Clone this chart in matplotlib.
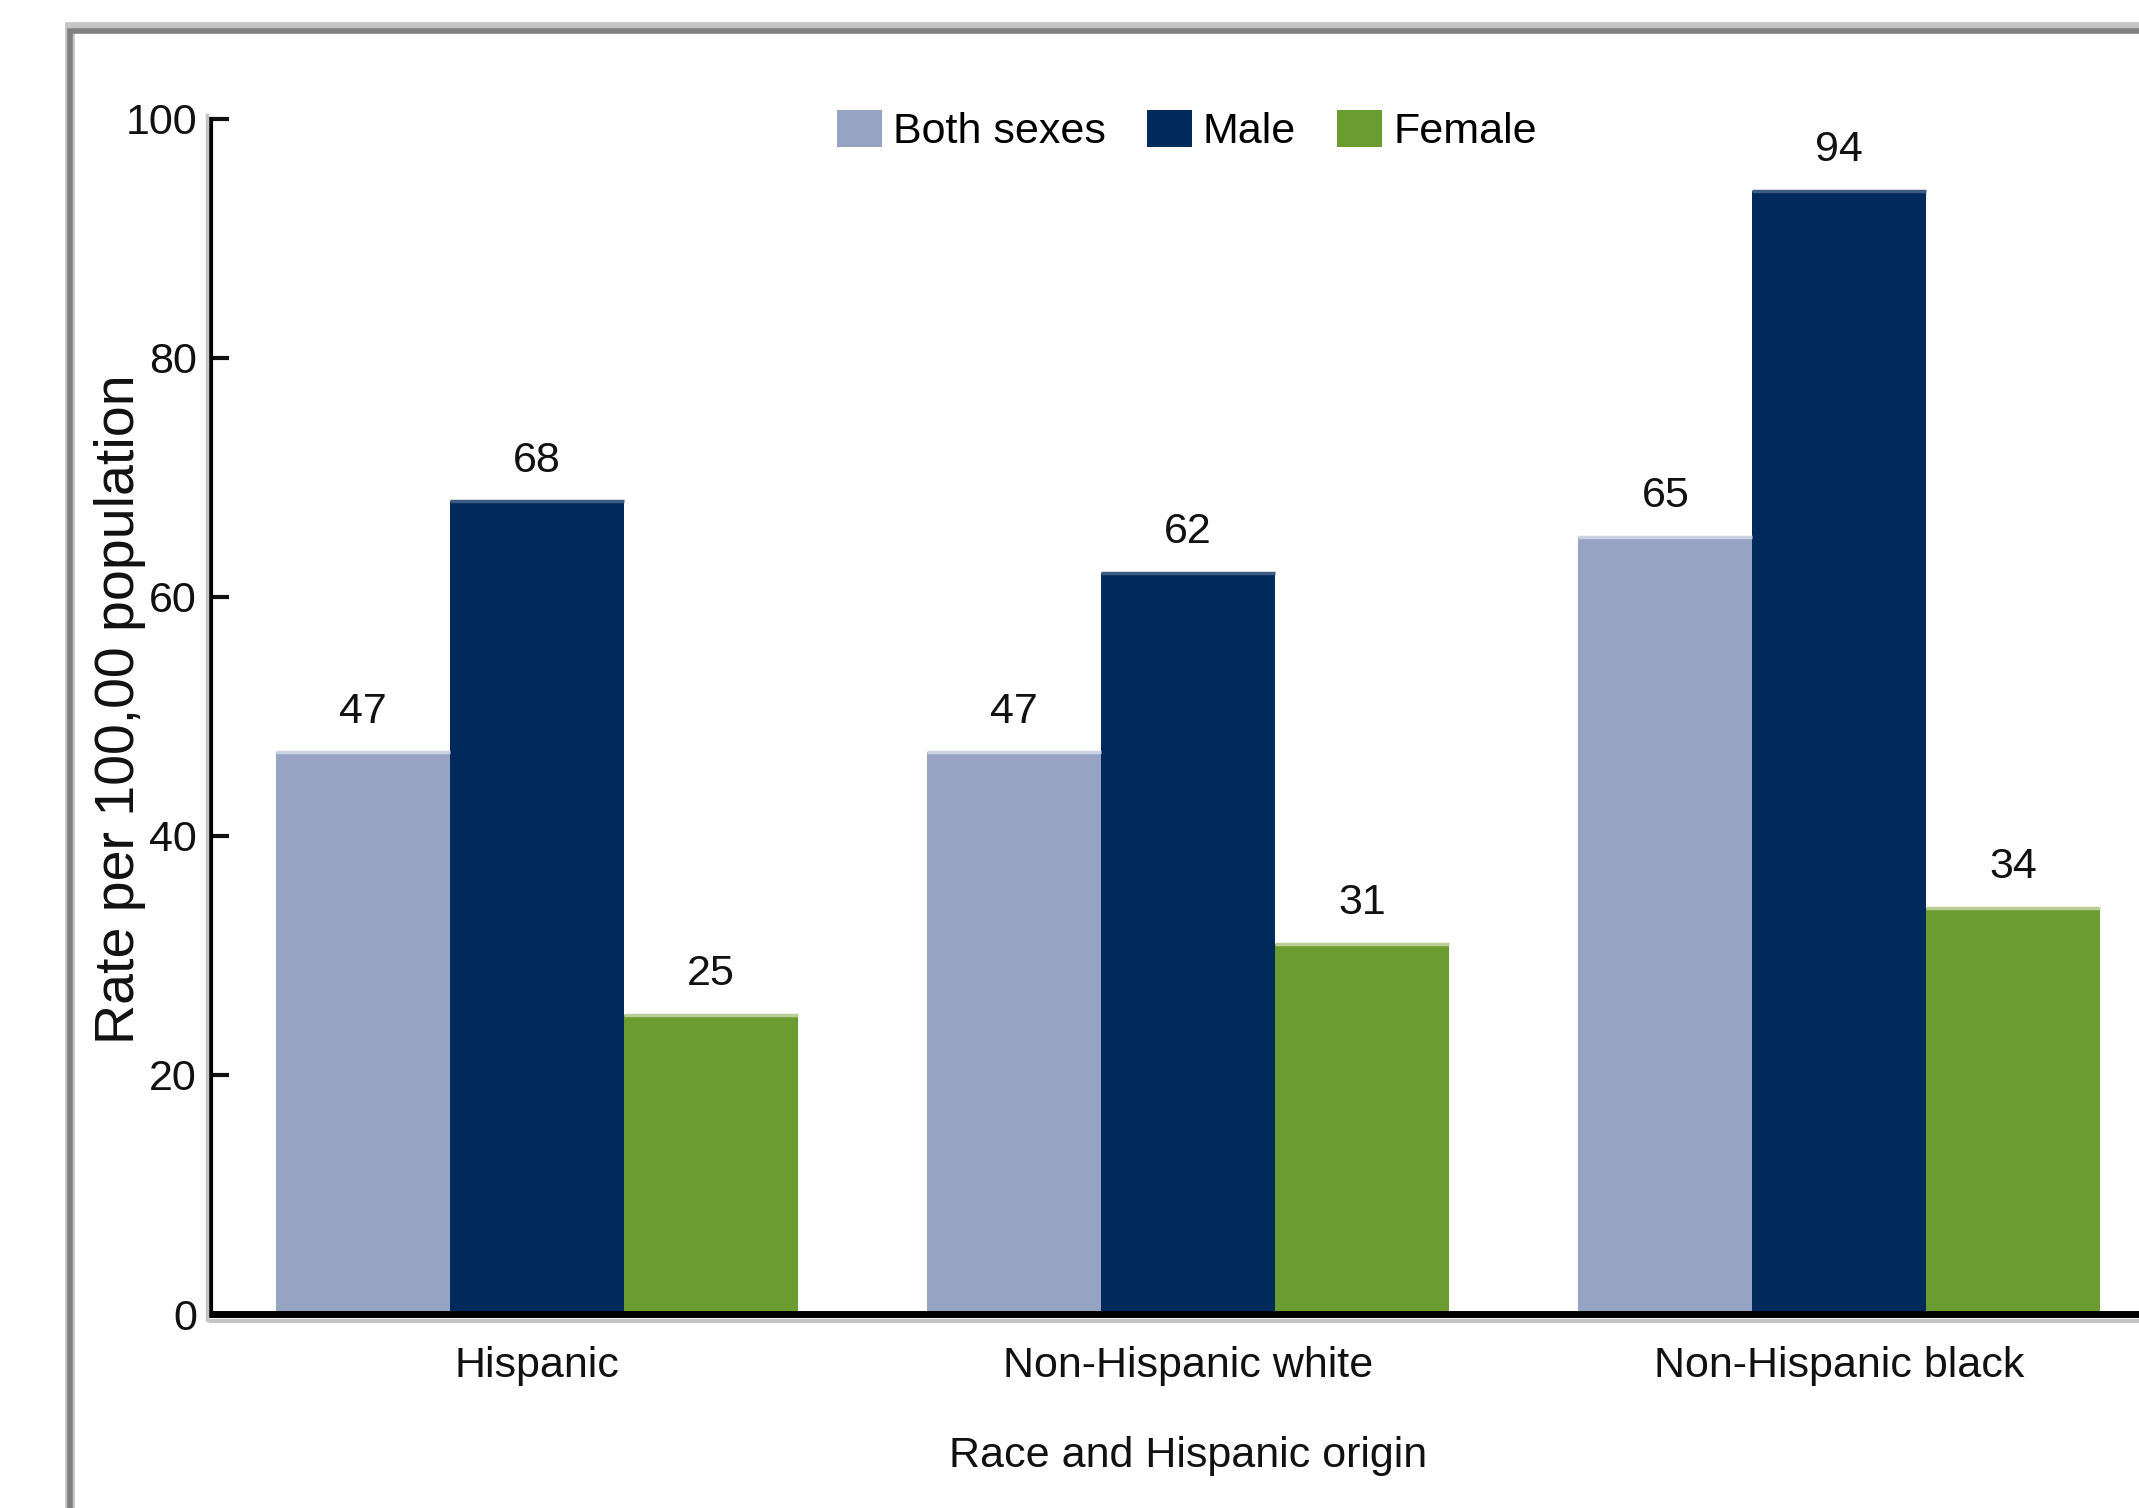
import matplotlib
matplotlib.use("Agg")
import matplotlib.pyplot as plt
import numpy as np
from matplotlib.patches import Rectangle
from matplotlib.lines import Line2D

# Data
groups = ["Hispanic", "Non-Hispanic white", "Non-Hispanic black"]
series_names = ["Both sexes", "Male", "Female"]
both_sexes = [47, 47, 65]
male = [68, 62, 94]
female = [25, 31, 34]
y_ticks = [0, 20, 40, 60, 80, 100]

colors = ["#96A3C2", "#002A5C", "#6A9C30"]
top_colors = ["#CBD2E3", "#3E5C82", "#B8CF98"]

plt.rcParams["font.family"] = ["Liberation Sans", "DejaVu Sans"]
TXT = "#111111"
FS = 31

W, H = 2139, 1508
fig = plt.figure(figsize=(W / 100, H / 100), dpi=100)

# Outer frame (extends past the right and bottom edges)
fig.add_artist(Rectangle((70 / W, -0.2), 1.2, 1 - 27 / H + 0.2,
                         transform=fig.transFigure, fill=False,
                         edgecolor="#C4C4C4", linewidth=7, zorder=0))
fig.add_artist(Rectangle((70 / W, -0.2), 1.2, 1 - 31 / H + 0.2,
                         transform=fig.transFigure, fill=False,
                         edgecolor="#808080", linewidth=4, zorder=0))

ax_left, ax_right = 211 / W, 2165 / W
ax_bottom, ax_top = 1 - 1314 / H, 1 - 119 / H
ax = fig.add_axes([ax_left, ax_bottom, ax_right - ax_left, ax_top - ax_bottom])

# Light shadow line beside the vertical axis
fig.add_artist(Line2D([(211 - 4) / W] * 2, [ax_bottom - 6 / H, ax_top + 4 / H],
                      transform=fig.transFigure, color="#C4C4C4", lw=2.5, zorder=1))

x = np.arange(len(groups))
bw = 0.267
values = [both_sexes, male, female]
for i, (vals, c, tc, name) in enumerate(zip(values, colors, top_colors, series_names)):
    pos = x + (i - 1) * bw
    ax.bar(pos, vals, width=bw, color=c, edgecolor="none", label=name, zorder=2)
    ax.hlines(vals, pos - bw / 2, pos + bw / 2, colors=tc, linewidth=2.5, zorder=3)
    for px, v in zip(pos, vals):
        ax.annotate(f"{v}", (px, v), xytext=(0, 15), textcoords="offset points",
                    ha="center", va="bottom", fontsize=FS, color=TXT)

ax.set_xlim(-0.5, 2.5)
ax.set_ylim(0, 100)
ax.set_yticks(y_ticks)
ax.set_xticks(x)
ax.set_xticklabels(groups, fontsize=FS, color=TXT)
ax.tick_params(axis="y", direction="in", length=13, width=3, labelsize=FS,
               pad=10, colors=TXT)
ax.tick_params(axis="x", length=0, pad=23)

for s in ["top", "right"]:
    ax.spines[s].set_visible(False)
ax.spines["left"].set_linewidth(3)
ax.spines["bottom"].set_linewidth(5)
ax.spines["left"].set_zorder(4)
ax.spines["bottom"].set_zorder(4)

# Light shadow line under the baseline
ax.plot([-0.5, 2.5], [-0.6, -0.6], color="#C4C4C4", lw=3, clip_on=False, zorder=1)

ax.set_ylabel("Rate per 100,00 population", fontsize=40, color=TXT)
ax.yaxis.label.set_va("center")
ax.yaxis.set_label_coords((120 - 211) / 1954, 0.506)
ax.set_xlabel("Race and Hispanic origin", fontsize=FS, color=TXT, labelpad=36)

handles = [Rectangle((0, 0), 1, 1, facecolor=c, edgecolor="none") for c in colors]
leg = ax.legend(handles, series_names, loc="upper center", ncol=3,
                frameon=False, prop={"size": FS},
                handlelength=1.05, handleheight=0.95, handletextpad=0.25,
                columnspacing=0.95, borderaxespad=0.0, borderpad=0.0)
leg.set_bbox_to_anchor((1187 / W, 1 - 110 / H), transform=fig.transFigure)

fig.savefig("out.png", dpi=100)
